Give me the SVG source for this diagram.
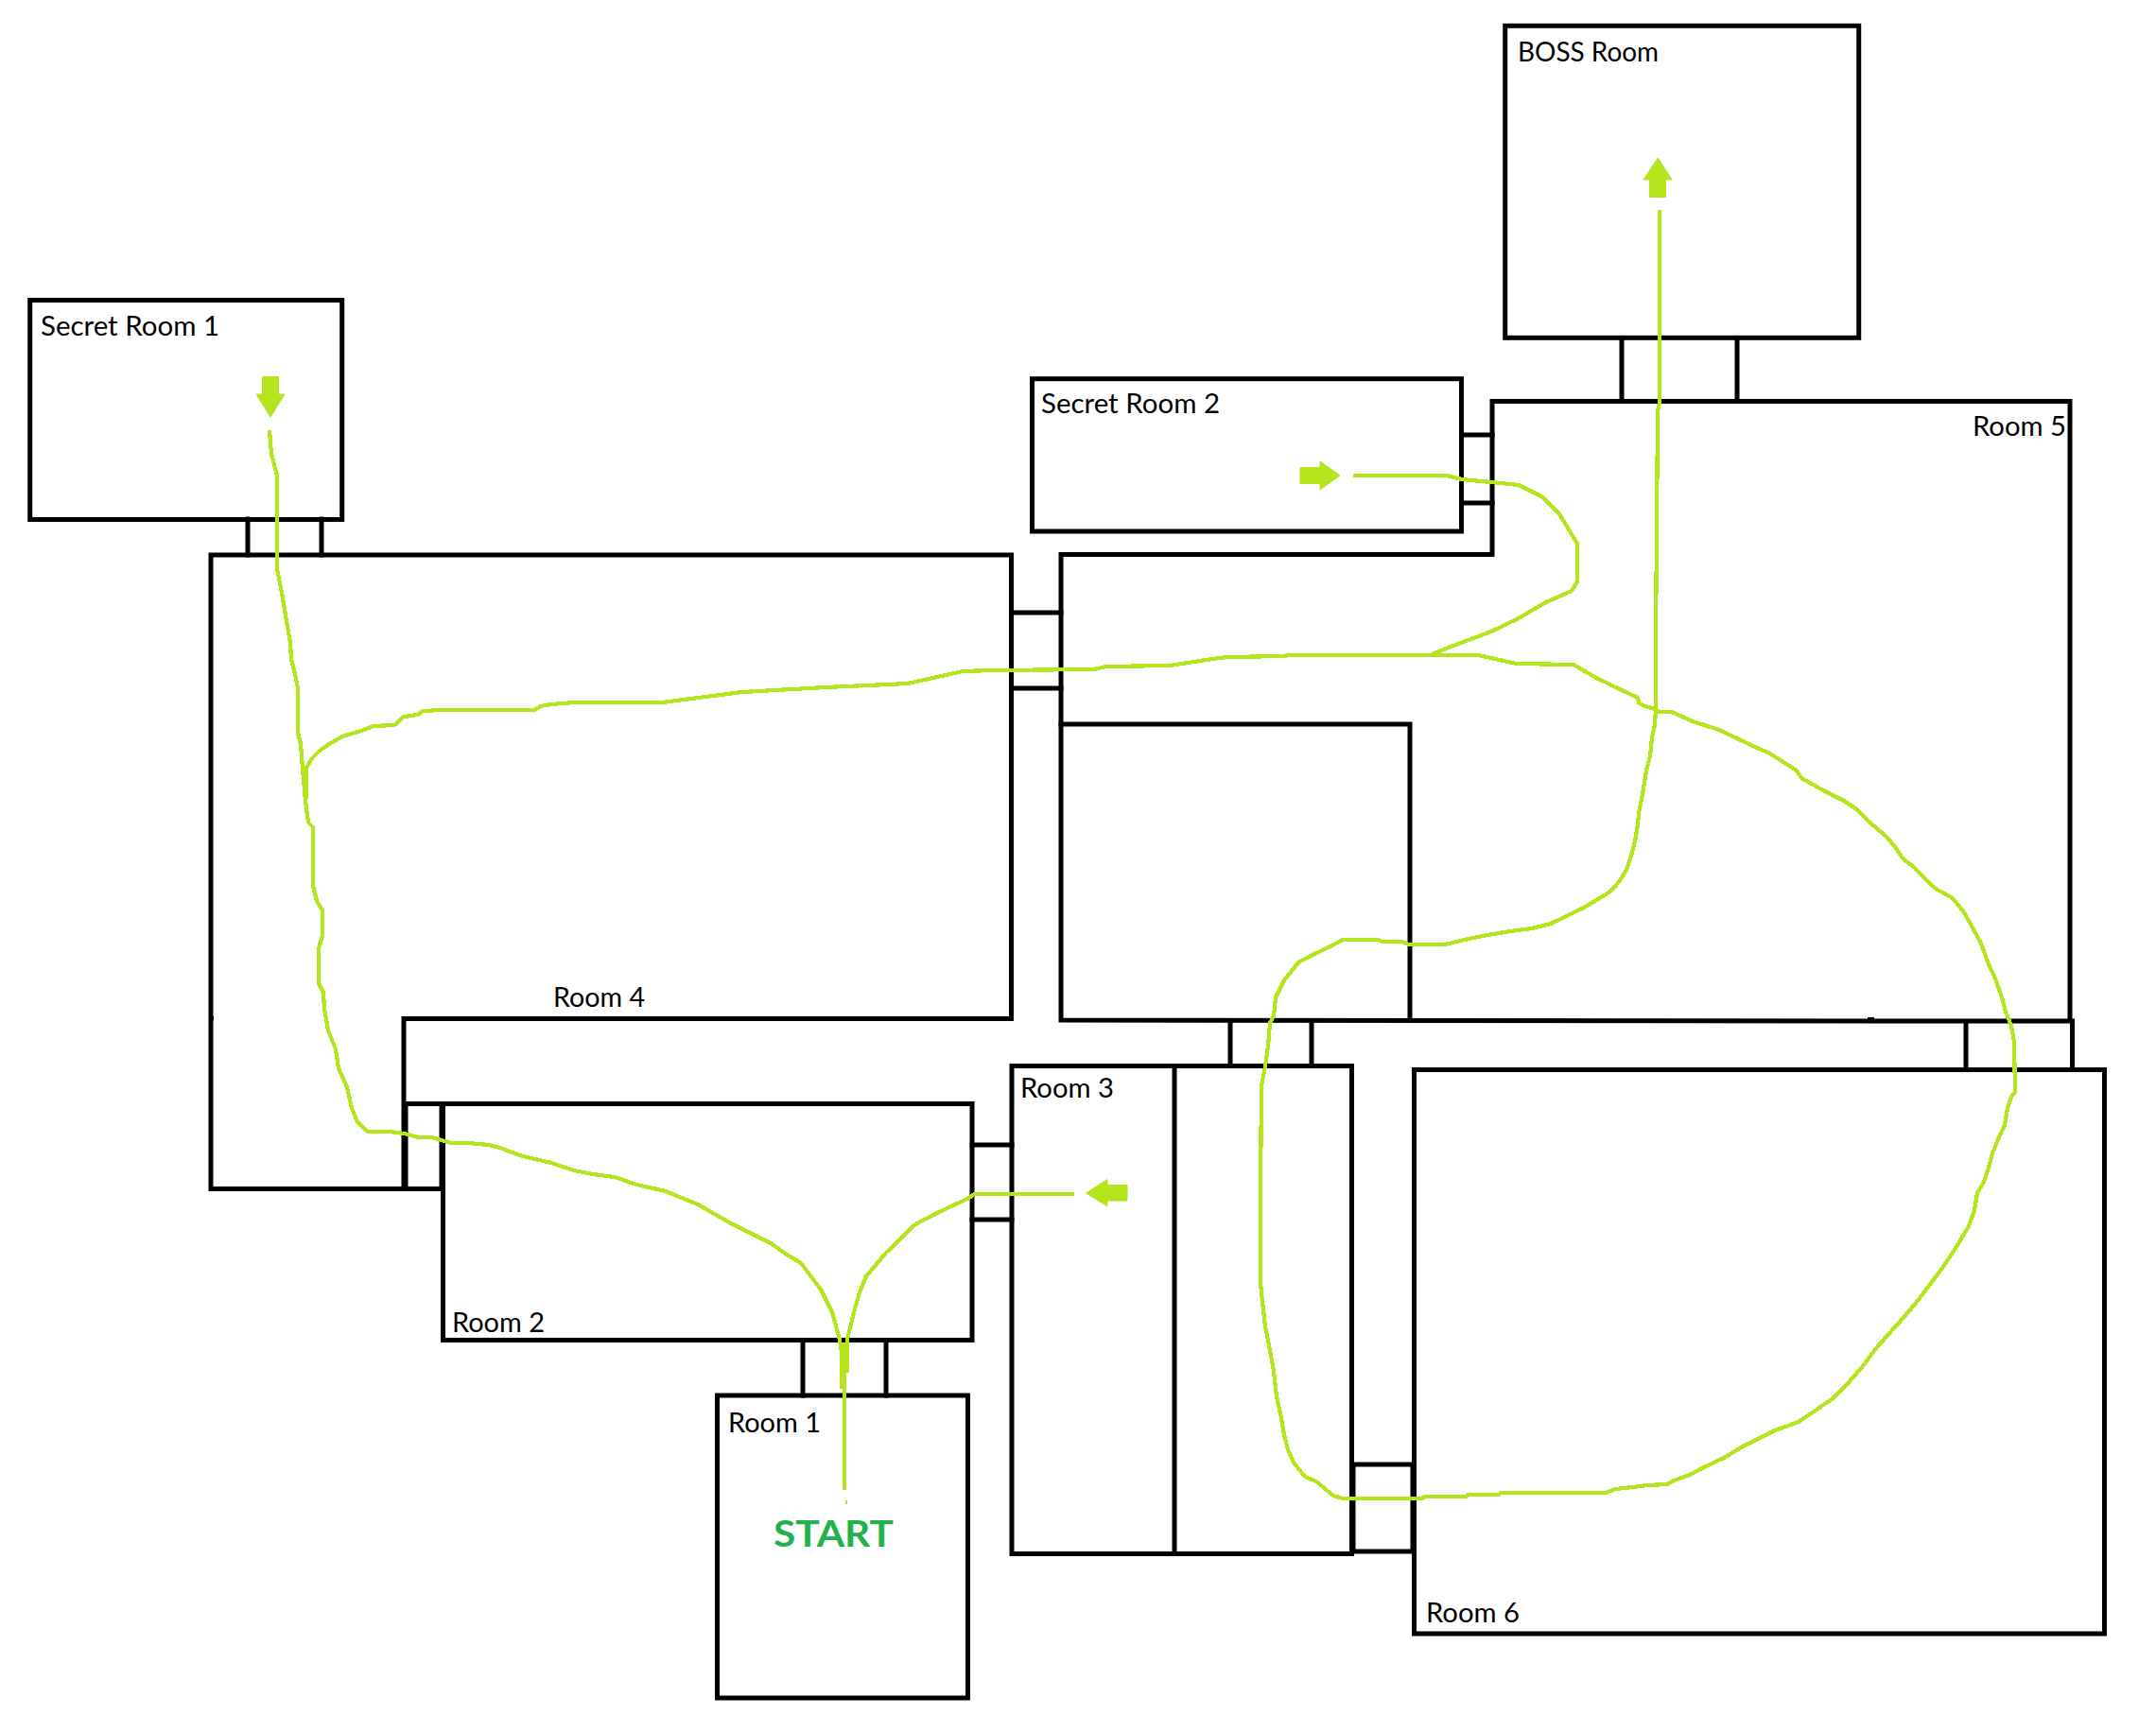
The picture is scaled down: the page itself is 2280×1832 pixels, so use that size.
<svg xmlns="http://www.w3.org/2000/svg" width="2280" height="1832" viewBox="0 0 2280 1832">
<style>
.w{fill:none;stroke:#000;stroke-width:5;stroke-linecap:square}
.p{fill:none;stroke:#b5e61d;stroke-width:4.2;stroke-linejoin:round;shape-rendering:crispEdges}
.a{fill:#b5e61d;stroke:#b5e61d;stroke-width:1;stroke-linejoin:round}
text{font-family:Lato,"Open Sans",sans-serif;font-size:28px;fill:#000}
#start text{font-weight:700;font-size:39px;fill:#22b14c}
</style>
<rect width="2280" height="1832" fill="#fff"/>
<g id="boss-room"><rect class="w" x="1591.7" y="27.3" width="374" height="330"/><text x="1605" y="65" textLength="149" lengthAdjust="spacingAndGlyphs">BOSS Room</text></g>
<g id="secret-room-1"><rect class="w" x="31.7" y="317.5" width="330" height="232"/><text x="43" y="355" textLength="189" lengthAdjust="spacingAndGlyphs">Secret Room 1</text></g>
<g id="secret-room-2"><rect class="w" x="1091.5" y="400.7" width="454" height="161.3"/><text x="1101" y="437" textLength="189" lengthAdjust="spacingAndGlyphs">Secret Room 2</text></g>
<g id="room-5"><path class="w" d="M1578,424.5H2189V1080H1980L1122,1079V586.5H1578Z"/><path class="w" d="M1122,766H1491V1079"/><rect x="1975" y="1076" width="7" height="6"/><text x="2086" y="461" textLength="99" lengthAdjust="spacingAndGlyphs">Room 5</text></g>
<g id="room-4"><path class="w" d="M223,587H1069.5V1077.5H427V1257.5H223Z"/><path d="M223,1077h3" stroke="#000" stroke-width="4"/><text x="585" y="1065" textLength="97" lengthAdjust="spacingAndGlyphs">Room 4</text></g>
<g id="room-3"><rect class="w" x="1070" y="1127.5" width="359.500" height="516"/><path class="w" d="M1242,1128V1641"/><text x="1079" y="1161" textLength="99" lengthAdjust="spacingAndGlyphs">Room 3</text></g>
<g id="room-2"><rect class="w" x="468.500" y="1167.500" width="559.500" height="250"/><text x="478" y="1409" textLength="98" lengthAdjust="spacingAndGlyphs">Room 2</text></g>
<g id="room-1"><rect class="w" x="758.500" y="1476" width="265" height="320"/><text x="770" y="1515" textLength="98" lengthAdjust="spacingAndGlyphs">Room 1</text></g>
<g id="start"><text x="818" y="1636" textLength="127" lengthAdjust="spacingAndGlyphs">START</text></g>
<g id="room-6"><rect class="w" x="1495.500" y="1131.500" width="730" height="596.500"/><text x="1508" y="1716" textLength="99" lengthAdjust="spacingAndGlyphs">Room 6</text></g>
<g id="doors">
<path class="w" d="M262,549V587M340,549V587"/>
<path class="w" d="M1715,358V424M1837,358V424"/>
<path class="w" d="M1546,460H1578M1546,532H1578"/>
<path class="w" d="M1070,648H1122M1070,728H1122"/>
<path class="w" d="M1028,1211H1070M1028,1290H1070"/>
<path class="w" d="M849,1418V1476M937,1418V1476"/>
<path class="w" d="M429,1167.500H467V1257.500H429Z"/>
<path class="w" d="M1301,1081V1127M1387,1081V1127"/>
<path class="w" d="M1431,1549V1641H1494V1549H1431"/>
<path class="w" d="M2079,1081V1131M2191.500,1080V1131"/>
</g>
<g id="connectors">
<path class="p" d="M893,1576V1420"/>
<path class="p" d="M894,1589h2"/>
<path class="p" d="M285,455L287,480L293,503V602L298,627L303,657L307,680L308,697L312,713L315,728V775L318,787L320,813L323,847L326,870L331,875V937L335,953L341,963V990L337,1003V1040L342,1050L343,1067L345,1078L347,1090L355,1110L358,1130L367,1150L372,1172L378,1187L389,1197H412L428,1199L442,1203H457L477,1209H495L517,1211L528,1214L553,1223L583,1230L607,1238L627,1242L650,1245L673,1253L704,1260L738,1274L773,1294L815,1315L832,1327L847,1336L868,1364L880,1388L888,1417L890,1430V1469"/>
<path class="p" d="M896,1452V1417L903,1388L909,1367L916,1350L937,1325L968,1295L991,1283L1025,1267L1030,1263H1136"/>
<path class="p" d="M1431,503H1530L1546,507L1577,510L1606,513L1630,525L1648,542L1668,575V615L1662,625L1635,637L1604,655L1577,668L1537,683L1514,692"/>
<path class="p" d="M324,845V812L330,802L338,794L348,787L362,779L382,773L395,768L417,767L427,758L442,756L447,752L467,751H565L572,747L583,745L607,743L700,743L785,732L873,727L960,723L1018,710L1050,709L1157,708L1170,705L1237,704L1282,697L1298,695L1358,694L1362,693H1563L1604,702L1664,703L1688,717L1715,730L1732,738L1733,744L1740,747L1750,750L1755,753H1768L1790,763L1818,772L1860,792L1870,796L1900,815L1905,823L1930,837L1950,847L1965,857L1975,868L1995,885L2005,897L2012,908L2025,918L2037,931L2047,940L2065,950L2077,965L2087,983L2095,998L2103,1020L2110,1035L2117,1055L2121,1070L2127,1085L2130,1102L2131,1155L2127,1160L2123,1172L2120,1190L2113,1205L2107,1220L2103,1235L2098,1250L2091,1262L2088,1280L2082,1297L2070,1317L2057,1337L2040,1360L2027,1377L2010,1397L2000,1408L1985,1425L1970,1445L1957,1460L1940,1478L1927,1487L1902,1504L1877,1513L1843,1530L1823,1542L1800,1553L1787,1560L1770,1566L1763,1570L1742,1571L1727,1573L1708,1575L1698,1579H1587L1585,1581H1553L1550,1583H1507L1503,1585H1420L1410,1582L1392,1567L1380,1562L1368,1547L1362,1533L1358,1518L1355,1500L1350,1477L1347,1450L1342,1423L1338,1403L1335,1377L1333,1357V1260L1334,1148L1338,1128L1341,1107L1343,1082L1347,1075L1349,1055L1358,1037L1373,1018L1388,1010L1407,1001L1420,994H1457L1462,996H1482L1490,999H1528L1553,993L1573,989L1597,985L1620,982L1640,977L1675,960L1700,945L1706,940L1714,930L1720,920L1725,905L1729,890L1732,872L1733,860L1737,840L1741,815L1745,800L1747,780L1750,767L1751,750V680L1753,435L1755,425V222"/>
<polygon class="a" points="277.5,398.5 294.5,398.5 294.5,417 301,417 286,441 271,417 277.5,417"/>
<polygon class="a" points="1375,494.5 1396,494.5 1396,488 1417,503 1396,518 1396,511.500 1375,511.500"/>
<polygon class="a" points="1192,1253.500 1171,1253.500 1171,1247.500 1148.500,1262 1171,1276 1171,1270 1192,1270"/>
<polygon class="a" points="1744.500,208.500 1761.500,208.500 1761.500,190 1768,190 1753.300,167 1738,190 1744.500,190"/>
</g>
</svg>
